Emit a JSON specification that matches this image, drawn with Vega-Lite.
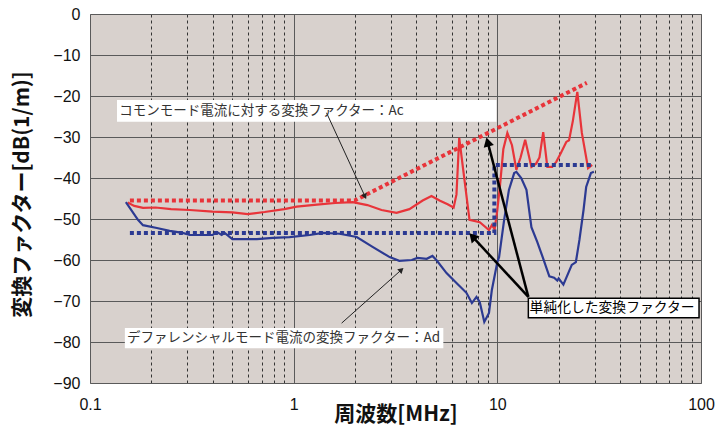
{
  "$schema": "https://vega.github.io/schema/vega-lite/v6.json",
  "width": 611,
  "height": 369,
  "autosize": {"type": "none"},
  "padding": {"left": 90, "top": 14, "right": 16, "bottom": 47},
  "background": "white",
  "config": {
    "view": {"fill": "#d8d1cd", "stroke": "#8a8a8a", "strokeWidth": 1},
    "font": "Liberation Sans"
  },
  "datasets": {
    "curves": [
      {"s": "Ac", "f": 0.153, "v": -46.0},
      {"s": "Ac", "f": 0.165, "v": -46.8},
      {"s": "Ac", "f": 0.182, "v": -47.3},
      {"s": "Ac", "f": 0.21, "v": -47.2},
      {"s": "Ac", "f": 0.25, "v": -47.6},
      {"s": "Ac", "f": 0.309, "v": -47.8},
      {"s": "Ac", "f": 0.4, "v": -48.2},
      {"s": "Ac", "f": 0.5, "v": -48.4},
      {"s": "Ac", "f": 0.595, "v": -48.8},
      {"s": "Ac", "f": 0.72, "v": -48.3},
      {"s": "Ac", "f": 0.9, "v": -47.6},
      {"s": "Ac", "f": 1.035, "v": -47.0},
      {"s": "Ac", "f": 1.3, "v": -46.5},
      {"s": "Ac", "f": 1.6, "v": -46.1},
      {"s": "Ac", "f": 1.95, "v": -45.9},
      {"s": "Ac", "f": 2.3, "v": -46.6},
      {"s": "Ac", "f": 2.7, "v": -47.8},
      {"s": "Ac", "f": 3.2, "v": -48.5},
      {"s": "Ac", "f": 3.7, "v": -47.6},
      {"s": "Ac", "f": 4.3, "v": -45.5},
      {"s": "Ac", "f": 4.75, "v": -44.4},
      {"s": "Ac", "f": 5.2, "v": -45.5},
      {"s": "Ac", "f": 5.7, "v": -46.4},
      {"s": "Ac", "f": 6.1, "v": -47.2},
      {"s": "Ac", "f": 6.3, "v": -44.0},
      {"s": "Ac", "f": 6.5, "v": -30.2},
      {"s": "Ac", "f": 6.8, "v": -38.0},
      {"s": "Ac", "f": 7.3, "v": -50.2},
      {"s": "Ac", "f": 8.2, "v": -50.8},
      {"s": "Ac", "f": 9.1, "v": -52.7},
      {"s": "Ac", "f": 9.4, "v": -51.5},
      {"s": "Ac", "f": 9.7, "v": -52.5},
      {"s": "Ac", "f": 10.0, "v": -47.8},
      {"s": "Ac", "f": 10.3, "v": -42.0},
      {"s": "Ac", "f": 10.7, "v": -33.0},
      {"s": "Ac", "f": 11.2, "v": -29.0},
      {"s": "Ac", "f": 11.8, "v": -32.0},
      {"s": "Ac", "f": 12.4, "v": -38.0},
      {"s": "Ac", "f": 13.0, "v": -35.0},
      {"s": "Ac", "f": 13.7, "v": -30.7},
      {"s": "Ac", "f": 14.7, "v": -37.3},
      {"s": "Ac", "f": 15.5, "v": -36.5},
      {"s": "Ac", "f": 16.1, "v": -35.0},
      {"s": "Ac", "f": 16.8, "v": -28.8},
      {"s": "Ac", "f": 17.6, "v": -37.3},
      {"s": "Ac", "f": 18.6, "v": -37.3},
      {"s": "Ac", "f": 19.5, "v": -36.0},
      {"s": "Ac", "f": 20.6, "v": -33.7},
      {"s": "Ac", "f": 21.8, "v": -31.2},
      {"s": "Ac", "f": 22.5, "v": -30.8},
      {"s": "Ac", "f": 23.5, "v": -26.0},
      {"s": "Ac", "f": 24.7, "v": -19.0},
      {"s": "Ac", "f": 26.0, "v": -29.0},
      {"s": "Ac", "f": 27.9, "v": -37.6},
      {"s": "Ac", "f": 29.2, "v": -36.8},
      {"s": "Ad", "f": 0.15, "v": -45.9},
      {"s": "Ad", "f": 0.172, "v": -50.2},
      {"s": "Ad", "f": 0.182, "v": -51.5},
      {"s": "Ad", "f": 0.213, "v": -52.2},
      {"s": "Ad", "f": 0.246, "v": -52.9},
      {"s": "Ad", "f": 0.285, "v": -53.4},
      {"s": "Ad", "f": 0.309, "v": -53.9},
      {"s": "Ad", "f": 0.4, "v": -53.9},
      {"s": "Ad", "f": 0.42, "v": -53.2},
      {"s": "Ad", "f": 0.443, "v": -53.9},
      {"s": "Ad", "f": 0.458, "v": -53.4},
      {"s": "Ad", "f": 0.5, "v": -54.9},
      {"s": "Ad", "f": 0.66, "v": -54.9},
      {"s": "Ad", "f": 0.79, "v": -54.6},
      {"s": "Ad", "f": 0.955, "v": -54.4},
      {"s": "Ad", "f": 1.2, "v": -53.9},
      {"s": "Ad", "f": 1.39, "v": -53.4},
      {"s": "Ad", "f": 1.68, "v": -53.6},
      {"s": "Ad", "f": 2.04, "v": -54.4},
      {"s": "Ad", "f": 2.44, "v": -56.8},
      {"s": "Ad", "f": 2.96, "v": -59.3},
      {"s": "Ad", "f": 3.3, "v": -60.2},
      {"s": "Ad", "f": 3.8, "v": -60.0},
      {"s": "Ad", "f": 4.05, "v": -59.5},
      {"s": "Ad", "f": 4.5, "v": -59.7},
      {"s": "Ad", "f": 4.8, "v": -59.0},
      {"s": "Ad", "f": 5.02, "v": -60.0},
      {"s": "Ad", "f": 5.63, "v": -63.2},
      {"s": "Ad", "f": 6.3, "v": -65.6},
      {"s": "Ad", "f": 7.05, "v": -68.0},
      {"s": "Ad", "f": 7.5, "v": -70.5},
      {"s": "Ad", "f": 7.9, "v": -69.0},
      {"s": "Ad", "f": 8.2, "v": -70.3},
      {"s": "Ad", "f": 8.63, "v": -75.1},
      {"s": "Ad", "f": 9.1, "v": -72.9},
      {"s": "Ad", "f": 9.4, "v": -67.3},
      {"s": "Ad", "f": 10.0, "v": -60.5},
      {"s": "Ad", "f": 10.2, "v": -59.3},
      {"s": "Ad", "f": 10.8, "v": -50.2},
      {"s": "Ad", "f": 11.4, "v": -42.9},
      {"s": "Ad", "f": 12.1, "v": -38.8},
      {"s": "Ad", "f": 12.4, "v": -38.5},
      {"s": "Ad", "f": 13.1, "v": -40.0},
      {"s": "Ad", "f": 13.9, "v": -42.9},
      {"s": "Ad", "f": 14.7, "v": -52.0},
      {"s": "Ad", "f": 15.7, "v": -55.6},
      {"s": "Ad", "f": 16.7, "v": -59.3},
      {"s": "Ad", "f": 18.0, "v": -64.0},
      {"s": "Ad", "f": 19.0, "v": -64.3},
      {"s": "Ad", "f": 19.7, "v": -65.0},
      {"s": "Ad", "f": 20.0, "v": -64.5},
      {"s": "Ad", "f": 21.1, "v": -66.0},
      {"s": "Ad", "f": 23.2, "v": -61.2},
      {"s": "Ad", "f": 24.3, "v": -60.5},
      {"s": "Ad", "f": 25.3, "v": -55.1},
      {"s": "Ad", "f": 26.5, "v": -47.8},
      {"s": "Ad", "f": 27.3, "v": -42.2},
      {"s": "Ad", "f": 28.8, "v": -38.8},
      {"s": "Ad", "f": 29.8, "v": -38.5}
    ],
    "simple": [
      {"s": "Ac", "i": 0, "f": 0.157, "v": -45.5},
      {"s": "Ac", "i": 1, "f": 1.99, "v": -45.5},
      {"s": "Ac", "i": 2, "f": 27.5, "v": -16.8},
      {"s": "Ad", "i": 0, "f": 0.157, "v": -53.4},
      {"s": "Ad", "i": 1, "f": 9.67, "v": -53.4},
      {"s": "Ad", "i": 2, "f": 9.67, "v": -36.8},
      {"s": "Ad", "i": 3, "f": 29.5, "v": -36.8}
    ],
    "boxes": [
      {"k": "ac", "f1": 0.1357, "f2": 9.9, "v1": -21.0, "v2": -26.3},
      {"k": "ad", "f1": 0.1483, "f2": 5.43, "v1": -76.6, "v2": -81.5},
      {"k": "simple", "f1": 14.2, "f2": 97.8, "v1": -69.3, "v2": -74.1}
    ],
    "labels": [
      {"k": "ac", "f": 0.139, "v": -23.7, "t": "コモンモード電流に対する変換ファクター：Ac"},
      {"k": "ad", "f": 0.152, "v": -79.0, "t": "デファレンシャルモード電流の変換ファクター：Ad"},
      {"k": "simple", "f": 14.4, "v": -71.7, "t": "単純化した変換ファクター"}
    ],
    "arrows": [
      {"k": "thin", "f1": 1.45, "v1": -24.1, "f2": 2.24, "v2": -44.5},
      {"k": "thin", "f1": 1.72, "v1": -75.4, "f2": 3.38, "v2": -62.4},
      {"k": "thick", "f1": 14.2, "v1": -69.0, "f2": 7.55, "v2": -54.3},
      {"k": "thick", "f1": 14.2, "v1": -69.0, "f2": 8.96, "v2": -31.2}
    ],
    "heads": [
      {"k": "h1", "f": 7.55, "v": -54.3},
      {"k": "h2", "f": 8.96, "v": -31.2},
      {"k": "h3", "f": 2.24, "v": -44.5},
      {"k": "h4", "f": 3.38, "v": -62.4}
    ]
  },
  "layer": [
    {
      "data": {"name": "boxes"},
      "transform": [{"filter": "datum.k != 'simple'"}],
      "mark": {"type": "rect", "fill": "white"},
      "encoding": {
        "x": {
          "field": "f1", "type": "quantitative",
          "scale": {"type": "log", "domain": [0.1, 100]},
          "axis": {
            "values": [0.1, 0.2, 0.3, 0.4, 0.5, 0.6, 0.7, 0.8, 0.9, 1, 2, 3, 4, 5, 6, 7, 8, 9, 10, 20, 30, 40, 50, 60, 70, 80, 90, 100],
            "format": "~g",
            "labelExpr": "abs(log(datum.value)/LN10 - round(log(datum.value)/LN10)) < 0.01 ? datum.label : ''",
            "labelOverlap": false,
            "labelFlush": false,
            "labelBound": false,
            "ticks": false,
            "domain": false,
            "labelFont": "Liberation Sans",
            "labelFontSize": 16,
            "labelColor": "#111",
            "labelPadding": 13,
            "gridColor": {"condition": {"test": "abs(log(datum.value)/LN10 - round(log(datum.value)/LN10)) < 0.01", "value": "#5a5a5a"}, "value": "#333333"},
            "gridDash": {"condition": {"test": "abs(log(datum.value)/LN10 - round(log(datum.value)/LN10)) < 0.01", "value": []}, "value": [3, 3]},
            "gridWidth": 1,
            "gridOpacity": 1,
            "title": "周波数[MHz]",
            "titleFont": "Noto Sans CJK JP",
            "titleFontSize": 21,
            "titleFontWeight": "bold",
            "titleColor": "#111",
            "titleY": 20,
            "titleBaseline": "top"
          }
        },
        "x2": {"field": "f2"},
        "y": {
          "field": "v1", "type": "quantitative",
          "scale": {"domain": [-90, 0], "nice": false},
          "axis": {
            "values": [-90, -80, -70, -60, -50, -40, -30, -20, -10, 0],
            "ticks": false,
            "domain": false,
            "labelFont": "Liberation Sans",
            "labelFontSize": 16,
            "labelColor": "#111",
            "labelPadding": 10,
            "gridColor": "#5a5a5a",
            "gridWidth": 1,
            "gridOpacity": 1,
            "title": "変換ファクター[dB(1/m)]",
            "titleFont": "Noto Sans CJK JP",
            "titleFontSize": 21,
            "titleFontWeight": "bold",
            "titleColor": "#111",
            "titleAngle": 270,
            "titleAlign": "center",
            "titleBaseline": "middle",
            "titleX": -68,
            "titleY": 180
          }
        },
        "y2": {"field": "v2"}
      }
    },
    {
      "data": {"name": "boxes"},
      "transform": [{"filter": "datum.k == 'simple'"}],
      "mark": {"type": "rect", "fill": "white", "stroke": "black", "strokeWidth": 1.5},
      "encoding": {
        "x": {"field": "f1", "type": "quantitative", "scale": {"type": "log", "domain": [0.1, 100]}},
        "x2": {"field": "f2"},
        "y": {"field": "v1", "type": "quantitative"},
        "y2": {"field": "v2"}
      }
    },
    {
      "data": {"name": "curves"},
      "mark": {"type": "line", "strokeWidth": 2.2},
      "encoding": {
        "x": {"field": "f", "type": "quantitative", "scale": {"type": "log", "domain": [0.1, 100]}},
        "y": {"field": "v", "type": "quantitative"},
        "color": {"field": "s", "type": "nominal", "scale": {"domain": ["Ac", "Ad"], "range": ["#e8343a", "#2c3a92"]}, "legend": null}
      }
    },
    {
      "data": {"name": "simple"},
      "mark": {"type": "line", "strokeWidth": 4, "strokeDash": [4, 3]},
      "encoding": {
        "x": {"field": "f", "type": "quantitative", "scale": {"type": "log", "domain": [0.1, 100]}},
        "y": {"field": "v", "type": "quantitative"},
        "order": {"field": "i", "type": "quantitative"},
        "color": {"field": "s", "type": "nominal", "scale": {"domain": ["Ac", "Ad"], "range": ["#e8343a", "#2c3a92"]}, "legend": null}
      }
    },
    {
      "data": {"name": "arrows"},
      "transform": [{"filter": "datum.k == 'thin'"}],
      "mark": {"type": "rule", "color": "#222", "strokeWidth": 1},
      "encoding": {
        "x": {"field": "f1", "type": "quantitative", "scale": {"type": "log", "domain": [0.1, 100]}},
        "y": {"field": "v1", "type": "quantitative"},
        "x2": {"field": "f2"},
        "y2": {"field": "v2"}
      }
    },
    {
      "data": {"name": "arrows"},
      "transform": [{"filter": "datum.k == 'thick'"}],
      "mark": {"type": "rule", "color": "black", "strokeWidth": 2.5},
      "encoding": {
        "x": {"field": "f1", "type": "quantitative", "scale": {"type": "log", "domain": [0.1, 100]}},
        "y": {"field": "v1", "type": "quantitative"},
        "x2": {"field": "f2"},
        "y2": {"field": "v2"}
      }
    },
    {
      "data": {"name": "heads"},
      "transform": [{"filter": "datum.k == 'h1'"}],
      "mark": {"type": "point", "shape": "triangle-up", "filled": true, "color": "black", "opacity": 1, "size": 110, "angle": 317},
      "encoding": {
        "x": {"field": "f", "type": "quantitative", "scale": {"type": "log", "domain": [0.1, 100]}},
        "y": {"field": "v", "type": "quantitative"}
      }
    },
    {
      "data": {"name": "heads"},
      "transform": [{"filter": "datum.k == 'h2'"}],
      "mark": {"type": "point", "shape": "triangle-up", "filled": true, "color": "black", "opacity": 1, "size": 110, "angle": 345},
      "encoding": {
        "x": {"field": "f", "type": "quantitative", "scale": {"type": "log", "domain": [0.1, 100]}},
        "y": {"field": "v", "type": "quantitative"}
      }
    },
    {
      "data": {"name": "heads"},
      "transform": [{"filter": "datum.k == 'h3'"}],
      "mark": {"type": "point", "shape": "triangle-up", "filled": true, "color": "#222", "opacity": 1, "size": 40, "angle": 155},
      "encoding": {
        "x": {"field": "f", "type": "quantitative", "scale": {"type": "log", "domain": [0.1, 100]}},
        "y": {"field": "v", "type": "quantitative"}
      }
    },
    {
      "data": {"name": "heads"},
      "transform": [{"filter": "datum.k == 'h4'"}],
      "mark": {"type": "point", "shape": "triangle-up", "filled": true, "color": "#222", "opacity": 1, "size": 40, "angle": 48},
      "encoding": {
        "x": {"field": "f", "type": "quantitative", "scale": {"type": "log", "domain": [0.1, 100]}},
        "y": {"field": "v", "type": "quantitative"}
      }
    },
    {
      "data": {"name": "labels"},
      "transform": [{"filter": "datum.k != 'simple'"}],
      "mark": {"type": "text", "align": "left", "baseline": "middle", "font": "Noto Sans CJK JP", "fontSize": 13.5, "color": "#333"},
      "encoding": {
        "x": {"field": "f", "type": "quantitative", "scale": {"type": "log", "domain": [0.1, 100]}},
        "y": {"field": "v", "type": "quantitative"},
        "text": {"field": "t", "type": "nominal"}
      }
    },
    {
      "data": {"name": "labels"},
      "transform": [{"filter": "datum.k == 'simple'"}],
      "mark": {"type": "text", "align": "left", "baseline": "middle", "font": "Noto Sans CJK JP", "fontSize": 13.8, "color": "black"},
      "encoding": {
        "x": {"field": "f", "type": "quantitative", "scale": {"type": "log", "domain": [0.1, 100]}},
        "y": {"field": "v", "type": "quantitative"},
        "text": {"field": "t", "type": "nominal"}
      }
    }
  ]
}
